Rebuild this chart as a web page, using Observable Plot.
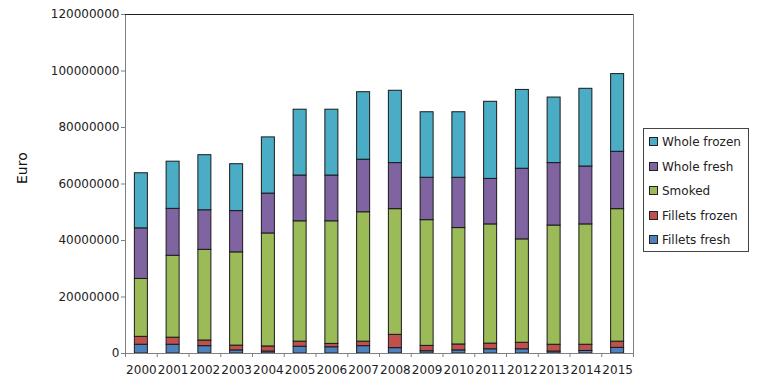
<!DOCTYPE html>
<html>
<head>
<meta charset="utf-8">
<script src="https://cdn.jsdelivr.net/npm/d3@7"></script>
<script src="https://cdn.jsdelivr.net/npm/@observablehq/plot@0.6"></script>
<style>
  html, body { margin: 0; padding: 0; background: #fff; }
  #wrap { position: relative; width: 764px; height: 386px; font-family: "DejaVu Sans", sans-serif; }
  #legend { position: absolute; left: 643px; top: 128px; width: 106px; height: 124px; border: 1px solid #444; box-sizing: border-box; background: #fff; }
  .item { position: absolute; left: 5px; font-size: 12px; color: #222; height: 14px; line-height: 14px; white-space: nowrap; }
  .sw { display: inline-block; width: 7px; height: 7px; border: 1px solid #222; margin-right: 4px; vertical-align: 0px; }
</style>
</head>
<body>
<div id="wrap"></div>
<script>
const years = ["2000","2001","2002","2003","2004","2005","2006","2007","2008","2009","2010","2011","2012","2013","2014","2015"];
const seriesNames = ["Fillets fresh", "Fillets frozen", "Smoked", "Whole fresh", "Whole frozen"];
const seriesColors = ["#4F81BD", "#C0504D", "#9BBB59", "#8064A2", "#4BACC6"];
const filletsFresh  = [3100000,3100000,2600000,1100000,700000,2400000,2200000,2600000,1900000,800000,1100000,1500000,1500000,700000,900000,2000000];
const filletsFrozen = [2800000,2500000,2000000,1700000,1800000,1800000,1200000,1600000,4700000,1900000,2100000,2000000,2300000,2400000,2200000,2200000];
const smoked        = [20500000,29000000,32100000,33000000,40000000,42600000,43400000,45800000,44500000,44500000,41200000,42200000,36600000,42200000,42600000,46900000];
const wholeFresh    = [17900000,16600000,14000000,14600000,14100000,16200000,16200000,18600000,16300000,15000000,17800000,16100000,25000000,22100000,20500000,20300000];
const wholeFrozen   = [19500000,16700000,19500000,16600000,19900000,23300000,23300000,23900000,25600000,23200000,23200000,27300000,27900000,23200000,27500000,27500000];
const yTicks = [0, 20000000, 40000000, 60000000, 80000000, 100000000, 120000000];

const seriesValues = [filletsFresh, filletsFrozen, smoked, wholeFresh, wholeFrozen];
const data = [];
seriesNames.forEach((s, si) => years.forEach((y, i) => data.push({year: y, series: s, value: seriesValues[si][i]})));

const W = 764, H = 386, mL = 125, mR = 131, mT = 14, mB = 33;
const step = (W - mL - mR) / years.length;
const inset = (step - 13) / 2;

const chart = Plot.plot({
  width: W, height: H,
  marginLeft: mL, marginRight: mR, marginTop: mT, marginBottom: mB,
  style: {fontFamily: "DejaVu Sans, sans-serif", fontSize: "12px", color: "#222", background: "#fff"},
  x: {type: "band", domain: years, padding: 0, round: false},
  y: {domain: [0, 120000000]},
  color: {domain: seriesNames, range: seriesColors},
  marks: [
    Plot.frame({stroke: "#808080"}),
    Plot.ruleY([120000000], {stroke: "#222"}),
    Plot.barY(data, {x: "year", y: "value", fill: "series", order: seriesNames,
      insetLeft: inset, insetRight: inset, stroke: "#1a1a1a", strokeWidth: 1}),
    Plot.axisY({ticks: yTicks, tickFormat: d3.format("d"), tickSize: 4, tickPadding: 2, stroke: "#808080", label: null, fill: "#222"}),
    Plot.ruleY([0], {stroke: "#808080"}),
    Plot.axisX({tickSize: 0, tickPadding: 12, label: null, fill: "#222"}),
    Plot.axisX({tickSize: 4, text: null, label: null, dx: -step / 2, stroke: "#808080"}),
    Plot.axisX({ticks: [years[years.length - 1]], tickSize: 4, text: null, label: null, dx: step / 2, stroke: "#808080"}),
    Plot.text(["Euro"], {frameAnchor: "left", dx: -103, rotate: -90, fontSize: 14, fill: "#111"})
  ]
});
const wrap = document.getElementById("wrap");
wrap.appendChild(chart);

const legend = document.createElement("div");
legend.id = "legend";
const legendOrder = seriesNames.slice().reverse();
const legendColors = seriesColors.slice().reverse();
legendOrder.forEach((name, i) => {
  const it = document.createElement("div");
  it.className = "item";
  it.style.top = (6 + i * 24.5) + "px";
  const sw = document.createElement("span");
  sw.className = "sw";
  sw.style.background = legendColors[i];
  it.appendChild(sw);
  it.appendChild(document.createTextNode(name));
  legend.appendChild(it);
});
wrap.appendChild(legend);
</script>
</body>
</html>
